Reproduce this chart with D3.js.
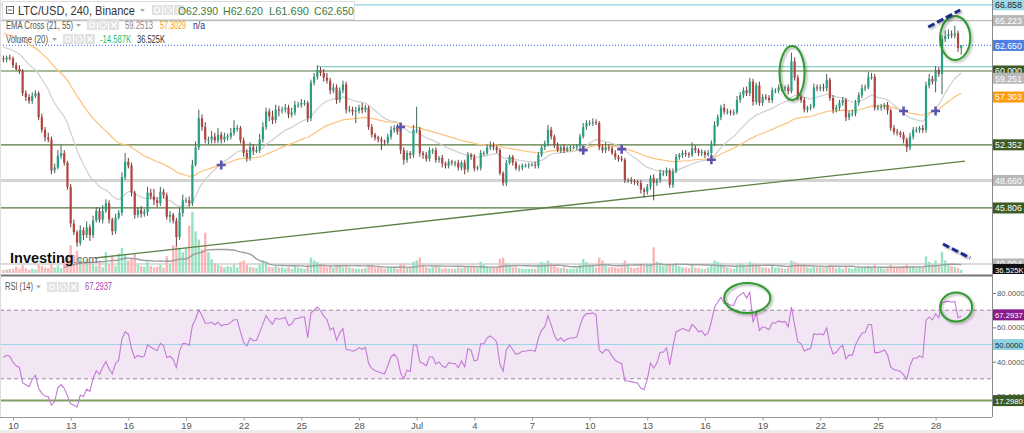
<!DOCTYPE html>
<html><head><meta charset="utf-8">
<script src="https://cdn.jsdelivr.net/npm/d3@7"></script>
<style>
html,body{margin:0;padding:0;background:#fff;}
svg{display:block;font-family:"Liberation Sans",Arial,sans-serif;}
</style></head><body>
<svg id="c" width="1024" height="433"></svg>
<script>
// ---------------- DATA ----------------
const startTime = "2019-06-09T12:00:00Z";   // first 4h candle
const firstOpen = 61.3;
const closes = [
61.2,61.4,61.3,
60.6,60.2,60.0,57.7,57.3,56.9,
57.4,57.7,55.2,53.9,53.1,52.9,
49.7,50.0,51.2,51.5,50.5,48.0,
44.2,43.3,42.2,43.5,43.0,43.8,
43.0,44.5,45.5,44.6,45.5,46.3,
44.6,43.4,44.8,45.3,49.0,50.6,
50.2,47.4,45.1,45.6,45.2,45.4,
47.4,47.0,46.6,46.3,47.5,47.1,
44.9,45.1,44.5,42.8,45.3,46.6,
46.6,46.3,50.3,52.1,55.1,54.2,
52.9,52.9,53.2,52.8,53.4,52.9,
53.2,53.2,53.6,54.1,54.1,52.8,
51.5,51.0,52.1,51.8,51.8,52.9,
54.2,55.8,55.3,54.9,56.0,55.9,
56.0,56.2,55.5,55.7,56.5,56.5,
56.7,56.7,55.1,58.8,59.4,60.1,
59.8,59.3,59.0,58.0,58.3,57.0,
58.0,58.6,56.0,56.0,55.8,55.9,
56.2,56.0,56.2,54.2,53.4,53.1,
52.9,52.7,52.6,53.2,53.9,54.1,
53.7,51.8,50.8,51.5,51.3,53.9,
53.9,51.5,51.3,50.9,51.8,51.8,
50.8,51.0,50.4,50.2,50.6,50.5,
50.5,50.0,50.5,49.8,51.3,51.1,
49.9,50.0,51.5,51.5,52.1,52.3,
52.1,51.8,49.4,48.4,50.5,51.1,
50.5,49.9,50.0,50.2,50.2,50.3,
50.3,50.2,51.3,52.1,52.5,53.9,
53.2,52.3,51.8,52.1,51.8,52.0,
52.1,52.1,52.2,53.2,54.2,54.6,
54.6,54.7,54.6,52.1,51.8,52.1,
52.0,51.5,51.1,50.9,50.8,48.7,
48.7,48.6,48.5,48.4,47.7,47.5,
48.0,48.9,48.4,48.7,49.4,49.4,
49.7,48.2,49.6,51.1,51.3,51.5,
51.4,51.3,52.0,51.8,51.5,51.6,
51.3,51.5,52.5,54.4,55.2,56.2,
55.8,55.8,55.7,55.7,57.0,57.5,
58.0,57.7,58.9,56.8,58.5,56.7,
57.3,57.2,57.0,58.0,58.0,58.3,
58.2,58.3,57.9,61.0,59.3,57.3,
57.0,56.0,56.2,56.3,58.3,58.2,
58.3,58.2,59.1,57.2,56.0,56.2,
56.7,57.0,55.2,55.6,55.6,56.7,
57.5,58.2,58.3,59.4,59.4,56.2,
56.2,56.3,56.5,55.9,54.1,53.7,
53.6,53.4,52.9,52.1,53.2,53.9,
53.9,54.1,53.9,58.5,59.2,58.9,
60.1,59.7,63.3,63.6,63.8,63.7,
63.9,62.39,62.65];
const wickHi = [
0.3,0.2,0.3,
0.2,0.3,0.4,0.2,0.3,0.3, 0.4,0.3,0.2,0.4,0.3,0.5, 0.3,0.4,0.6,0.8,0.3,0.2,
0.3,0.4,0.2,0.5,0.3,0.6, 0.3,0.5,0.4,0.3,0.6,0.4, 0.3,0.2,0.4,0.3,0.5,0.9,
0.4,0.3,0.2,0.3,0.4,0.3, 0.6,0.4,0.8,0.3,0.5,0.3, 0.3,0.4,0.2,0.3,0.5,0.6,
0.3,0.4,0.5,0.6,0.9,0.4, 0.5,0.3,0.6,0.4,0.7,0.3, 0.4,0.3,0.5,0.8,0.3,0.2,
0.3,0.4,0.5,0.3,0.4,0.6, 0.5,0.4,0.3,0.6,0.5,0.4, 0.3,0.4,0.3,0.5,0.4,0.3,
0.4,0.3,0.2,0.3,0.4,0.5, 0.3,0.4,0.5,0.3,0.4,0.3, 0.3,0.4,0.3,0.4,0.3,0.4,
0.3,0.5,0.3,0.2,0.3,0.2, 0.2,0.3,0.2,0.3,0.4,0.3, 0.4,0.2,0.3,0.3,0.2,0.5,
2.4,0.3,0.2,0.3,0.3,0.2, 0.3,0.2,0.3,0.2,0.3,0.2, 0.2,0.3,0.2,0.3,0.3,0.2,
0.3,0.2,0.3,0.2,0.3,0.4, 0.3,0.2,0.2,0.2,0.3,0.2, 0.2,0.2,0.3,0.2,0.2,0.2,
0.2,0.3,0.3,0.2,0.3,0.5, 0.3,0.2,0.3,0.2,0.3,0.2, 0.2,0.2,0.2,0.3,0.4,0.3,
0.3,0.4,0.3,0.2,0.3,0.5, 0.3,0.2,0.3,0.2,0.3,0.2, 0.2,0.3,0.2,0.2,0.3,0.2,
0.3,0.3,0.4,0.2,0.4,0.3, 0.3,0.2,0.3,0.3,0.2,0.3, 0.3,0.2,0.6,0.3,0.2,0.3,
0.2,0.3,0.3,0.4,0.3,0.3, 0.4,0.3,0.2,0.3,0.4,0.3, 0.3,0.4,0.4,0.3,0.3,0.4,
0.3,0.3,0.3,0.3,0.2,0.3, 0.3,0.2,0.3,0.9,0.4,0.3, 0.3,0.3,0.2,0.3,0.4,0.3,
0.3,0.4,0.6,0.2,0.3,0.3, 0.3,0.3,0.2,0.3,0.4,0.3, 0.3,0.4,0.3,0.5,0.4,0.3,
0.3,0.3,0.2,0.3,0.2,0.3, 0.3,0.2,0.3,0.2,0.4,0.3, 0.3,0.2,0.3,0.4,0.5,0.3,
0.4,0.3,0.4,0.6,0.5,0.4, 0.8,0.3,0.0];
const wickLo = [
0.3,0.3,0.2,
0.3,0.2,0.3,0.3,0.4,0.3, 0.3,0.2,0.3,0.3,0.4,0.3, 0.4,0.3,0.2,0.3,0.3,0.3,
0.4,0.3,0.4,0.3,0.5,0.3, 0.6,0.3,0.2,0.3,0.4,0.2, 0.4,0.4,0.3,0.2,0.3,0.3,
0.3,0.4,0.4,0.3,0.4,0.3, 0.4,0.3,0.5,0.4,0.3,0.3, 0.3,0.6,0.3,1.0,0.3,0.4,
0.3,0.4,0.3,0.2,0.3,0.4, 0.4,0.5,0.4,0.3,0.3,0.4, 0.3,0.4,0.3,0.3,0.4,0.3,
0.4,0.4,0.3,0.5,0.3,0.3, 0.3,0.3,0.5,0.4,0.3,0.6, 0.3,0.3,0.4,0.3,0.3,0.3,
0.3,0.3,0.4,0.3,0.3,0.3, 0.3,0.4,0.3,0.4,0.3,0.4, 0.3,0.3,0.4,0.3,0.4,1.2,
0.3,0.4,0.3,0.3,0.3,0.3, 0.3,0.9,0.3,0.2,0.3,0.3, 0.3,0.4,0.5,0.3,0.4,0.3,
0.3,0.4,0.4,0.3,0.3,0.4, 0.3,0.3,0.4,0.3,0.3,0.3, 0.4,0.3,0.3,0.5,0.3,0.3,
0.3,0.2,0.3,0.3,0.2,0.3, 0.3,0.3,0.2,0.3,0.3,0.2, 0.3,0.2,0.3,0.3,0.2,0.3,
0.2,0.3,0.3,0.2,0.3,0.3, 0.3,0.3,0.2,0.3,0.3,0.2, 0.3,0.2,0.3,0.3,0.2,0.3,
0.3,0.3,0.2,0.3,0.3,0.3, 0.3,0.2,0.3,0.3,0.2,0.3, 0.3,0.3,0.3,0.3,0.4,0.6,
0.3,0.3,1.8,0.3,0.3,0.3, 0.3,0.3,0.3,0.2,0.3,0.3, 0.3,0.3,0.2,0.3,0.3,0.3,
0.3,0.2,0.3,0.3,0.2,0.3, 0.3,0.3,0.3,0.3,0.2,0.3, 0.3,0.3,0.3,0.4,0.3,0.3,
0.3,0.2,0.3,0.3,0.3,0.3, 0.3,0.3,0.3,0.2,0.3,0.3, 0.3,0.3,0.3,0.3,0.2,0.3,
0.3,0.3,0.3,0.3,0.4,0.3, 0.3,0.3,0.4,0.3,0.3,0.3, 0.3,0.3,0.3,0.2,0.3,0.3,
0.3,0.3,0.3,0.4,0.3,0.3, 0.3,0.3,0.4,0.5,0.3,0.3, 0.3,0.3,0.3,0.3,0.3,0.3,
1.1,0.3,2.1,0.3,0.3,0.3, 0.3,0.4,0.7];
const volumes = [
20,25,30,
30,45,30,55,35,25, 30,25,60,50,40,35, 70,40,55,35,90,110,
200,130,160,110,80,90, 70,60,50,90,40,150, 60,120,50,140,180,130,
90,100,140,60,50,45, 80,50,40,45,60,40, 120,60,200,190,180,150,
180,340,440,300,240,170, 290,150,100,70,60,50, 40,50,45,60,40,80,
90,60,45,40,35,60, 90,70,45,40,55,40, 40,35,45,30,50,40,
35,30,60,110,90,80, 60,50,40,55,40,60, 50,40,60,40,35,30,
30,30,35,60,55,40, 40,35,30,40,45,35, 30,70,60,40,35,80,
90,110,60,40,35,40, 45,40,30,35,30,30, 30,40,35,45,50,40,
50,40,80,60,50,40, 35,45,100,110,70,55, 40,45,35,30,30,30,
30,30,60,80,70,90, 70,50,40,35,40,30, 30,30,35,60,100,80,
60,50,40,110,90,60, 40,45,40,35,40,90, 60,40,35,40,60,50,
70,60,185,80,60,50, 50,60,55,70,50,40, 40,35,60,40,35,30,
30,40,60,90,80,70, 50,40,35,30,60,70, 60,40,80,70,60,60,
40,40,35,50,40,40, 35,30,40,90,80,70, 50,60,40,35,45,40,
40,35,50,60,45,35, 40,30,50,35,30,40, 45,40,35,50,40,60,
40,35,30,40,60,45, 40,35,50,60,45,50, 40,45,40,120,80,60,
90,60,150,90,60,50, 45,35,22];
const ema21Seed = 62.6, ema55Seed = 64.0;        // indicator values before the first candle
const rsiSeedGain = 0.30, rsiSeedLoss = 0.40;    // Wilder averages before the first candle
const tickDates  = ["2019-06-10","2019-06-13","2019-06-16","2019-06-19","2019-06-22","2019-06-25","2019-06-28","2019-07-01","2019-07-04","2019-07-07","2019-07-10","2019-07-13","2019-07-16","2019-07-19","2019-07-22","2019-07-25","2019-07-28"];
const tickLabels = ["10","13","16","19","22","25","28","Jul","4","7","10","13","16","19","22","25","28"];
const priceTicks = [40,42,44,46,48,50,52,54,56,58,60,62,64,66];
const rsiTicks = [20,40,60,80];
const levelPrices = [66.858, 65.223, 60.45, 60.0, 52.352, 48.66, 45.806, 40.004];
const currentPrice = 62.65;
const trendline = [[28.6, 40.62],[300.2, 50.67]];           // [candle index, price]
const crossIdx   = [68, 124, 181, 193, 221, 281, 291];
const crossPrice = [50.26, 54.2, 51.8, 51.9, 50.8, 55.85, 55.85];
const rsiLevels = [70, 50, 30, 17.298];
const lastRSI = 67.2937;
const ema21Last = 59.251, ema55Last = 57.303, volMALast = "36.525K";
const header = {sym:"LTC/USD, 240, Binance", ohlc:["O62.390","H62.620","L61.690","C62.650"],
  ema:["59.2513","57.3029","n/a"], vol:["-14.587K","36.525K"], rsi:"67.2937"};

// ---------------- SETUP ----------------
const svg = d3.select("#c");
const plotR = 992;
const x = d3.scaleUtc().domain([new Date("2019-06-10T00:00:00Z"), new Date("2019-07-28T00:00:00Z")]).range([13, 935.6]);
const t0 = new Date(startTime).getTime();
const tAt = i => new Date(t0 + i*4*3600*1000);
const xi = i => x(tAt(i));
const y  = d3.scaleLinear().domain([40,66]).range([264,13.1]);
const yv = d3.scaleLinear().domain([0,560]).range([273,195]);
const yr = d3.scaleLinear().domain([40,80]).range([361.65,293.05]);
const N = closes.length;
const opens = closes.map((c,i)=> i===0 ? firstOpen : closes[i-1]);
const highs = closes.map((c,i)=> Math.max(c,opens[i]) + wickHi[i]);
const lows  = closes.map((c,i)=> Math.min(c,opens[i]) - wickLo[i]);
const up = closes.map((c,i)=> c >= opens[i]);

// indicators
const ema = (seed, n) => { const a = 2/(n+1); let e = seed; return closes.map(c => (e = e + a*(c-e))); };
const ema21 = ema(ema21Seed, 21), ema55 = ema(ema55Seed, 55);
let ag = rsiSeedGain, al = rsiSeedLoss;
const rsi = closes.map((c,i)=>{ const ch = c - (i===0?firstOpen:closes[i-1]);
  ag = (ag*13 + Math.max(ch,0))/14; al = (al*13 + Math.max(-ch,0))/14; return 100 - 100/(1+ag/al); });
const volMA = volumes.map((v,i)=> i<19 ? null : d3.mean(volumes.slice(i-19,i+1)));

const defs = svg.append("defs");
defs.append("clipPath").attr("id","cm").append("rect").attr("x",0).attr("y",0).attr("width",plotR).attr("height",274);
defs.append("clipPath").attr("id","cr").append("rect").attr("x",0).attr("y",277).attr("width",plotR).attr("height",139);
defs.append("clipPath").attr("id","cax").append("rect").attr("x",plotR).attr("y",0).attr("width",40).attr("height",274);
const f = defs.append("filter").attr("id","sh").attr("x","-20%").attr("y","-20%").attr("width","150%").attr("height","150%");
f.append("feDropShadow").attr("dx",1.5).attr("dy",1.5).attr("stdDeviation",1.2).attr("flood-color","#000").attr("flood-opacity",0.35);

// ---------------- MAIN PANE ----------------
const gm = svg.append("g").attr("clip-path","url(#cm)");
const levelStyle = [
 {c:"#8fd3e3", w:1.3}, {c:"#bdbdbd", w:1.3}, {c:"#86d0cc", w:1.3, from:98},
 {c:"#55783a", w:1.2}, {c:"#55783a", w:1.2}, {c:"#d4d4d4", w:3},
 {c:"#55783a", w:1.2}, {c:"#cfcfcf", w:1.5}];
levelPrices.forEach((p,k)=>{
  const s = levelStyle[k];
  gm.append("line").attr("x1", s.from!=null ? xi(s.from) : 0).attr("x2", plotR)
    .attr("y1", y(p)).attr("y2", y(p)).attr("stroke", s.c).attr("stroke-width", s.w);
});
gm.append("line").attr("x1",0).attr("x2",plotR).attr("y1",y(currentPrice)).attr("y2",y(currentPrice))
  .attr("stroke","#5b82f2").attr("stroke-width",1.2).attr("stroke-dasharray","1,2");

// volume
gm.selectAll("rect.vol").data(volumes).join("rect").attr("class","vol")
  .attr("x",(d,i)=>xi(i)-1.2).attr("width",2.4)
  .attr("y",d=>yv(d)).attr("height",d=>yv(0)-yv(d))
  .attr("fill",(d,i)=> up[i] ? "#98e2c2" : "#f8b6b6");
gm.append("path").datum(volMA.map((v,i)=>[i,v]).filter(d=>d[1]!=null))
  .attr("d", d3.line().x(d=>xi(d[0])).y(d=>yv(d[1])))
  .attr("fill","none").attr("stroke","#9e9e9e").attr("stroke-width",1.4);

// trendline
gm.append("line").attr("x1",xi(trendline[0][0])).attr("y1",y(trendline[0][1]))
  .attr("x2",xi(trendline[1][0])).attr("y2",y(trendline[1][1]))
  .attr("stroke","#5c8046").attr("stroke-width",1.3);

// EMAs
const lineI = arr => d3.line().x((d,i)=>xi(i)).y(d=>y(d))(arr);
gm.append("path").attr("d",lineI(ema55)).attr("fill","none").attr("stroke","#fcc27a").attr("stroke-width",1.2);
gm.append("path").attr("d",lineI(ema21)).attr("fill","none").attr("stroke","#cfcfcf").attr("stroke-width",1.2);

// candles
const idx = d3.range(N);
gm.selectAll("line.wick").data(idx).join("line").attr("class","wick")
  .attr("x1",i=>xi(i)).attr("x2",i=>xi(i)).attr("y1",i=>y(highs[i])).attr("y2",i=>y(lows[i]))
  .attr("stroke",i=> up[i] ? "#3f6650" : "#6a3a36").attr("stroke-width",1);
gm.selectAll("rect.body").data(idx).join("rect").attr("class","body")
  .attr("x",i=>xi(i)-1.1).attr("width",2.2)
  .attr("y",i=>y(Math.max(opens[i],closes[i])))
  .attr("height",i=>Math.max(1, Math.abs(y(opens[i])-y(closes[i]))))
  .attr("fill",i=> up[i] ? "#27a086" : "#b3443f");

// cross markers
crossIdx.forEach((ci,k)=>{
  const cx = xi(ci), cy = y(crossPrice[k]);
  gm.append("path").attr("d",`M${cx-4.5},${cy}H${cx+4.5}M${cx},${cy-4.5}V${cy+4.5}`)
    .attr("stroke","#5b55b0").attr("stroke-width",2.6);
});

// annotations (price)
const ellipse = (g, ci, v, rc, rv, ys) => g.append("ellipse")
  .attr("cx", xi(ci)).attr("cy", ys(v)).attr("rx", xi(ci+rc)-xi(ci)).attr("ry", Math.abs(ys(v+rv)-ys(v)))
  .attr("fill","none").attr("stroke","#2e9a2e").attr("stroke-width",2).attr("filter","url(#sh)");
ellipse(gm, 246.2, 59.8, 3.9, 2.8, y);
ellipse(gm, 297.1, 63.42, 4.7, 2.28, y);
const dash = (g, a, b, ys) => g.append("line").attr("x1",xi(a[0])).attr("y1",ys(a[1])).attr("x2",xi(b[0])).attr("y2",ys(b[1]))
  .attr("stroke","#1c2a8a").attr("stroke-width",3).attr("stroke-dasharray","7,3").attr("filter","url(#sh)");
dash(gm, [288.7,64.56],[298.7,66.32], y);
dash(gm, [293.3,208],[301.8,108], yv);

// logo
const logo = svg.append("text").attr("x",10).attr("y",263);
logo.append("tspan").text("Investing").attr("font-size",14.5).attr("font-weight","bold").attr("fill","#111");
logo.append("tspan").text(".com").attr("font-size",11).attr("fill","#666");

// ---------------- RSI PANE ----------------
const gr = svg.append("g").attr("clip-path","url(#cr)");
gr.append("rect").attr("x",0).attr("width",plotR).attr("y",yr(70)).attr("height",yr(30)-yr(70)).attr("fill","#f3e6f4");
gr.append("line").attr("x1",0).attr("x2",plotR).attr("y1",yr(rsiLevels[3])).attr("y2",yr(rsiLevels[3])).attr("stroke","#7fa060").attr("stroke-width",2);
[70,30].forEach(v=> gr.append("line").attr("x1",0).attr("x2",plotR).attr("y1",yr(v)).attr("y2",yr(v))
  .attr("stroke","#9a8a9a").attr("stroke-width",1).attr("stroke-dasharray","4,3"));
gr.append("line").attr("x1",0).attr("x2",plotR).attr("y1",yr(50)).attr("y2",yr(50)).attr("stroke","#9fd3ea").attr("stroke-width",1.2);
gr.append("path").attr("d", d3.line().x((d,i)=>xi(i)).y(d=>yr(d))(rsi))
  .attr("fill","none").attr("stroke","#c27ad4").attr("stroke-width",1.1);
ellipse(gr, 232.2, 77.1, 7.2, 8.75, yr);
ellipse(gr, 297.4, 71.9, 5.0, 8.45, yr);

// ---------------- FRAME / AXES ----------------
svg.append("line").attr("x1",0).attr("x2",plotR).attr("y1",275.5).attr("y2",275.5).attr("stroke","#777").attr("stroke-width",2);
svg.append("line").attr("x1",plotR+0.5).attr("x2",plotR+0.5).attr("y1",0).attr("y2",417).attr("stroke","#8a8a8a");
svg.append("line").attr("x1",0.5).attr("x2",0.5).attr("y1",0).attr("y2",417).attr("stroke","#ddd");
svg.append("line").attr("x1",0).attr("x2",plotR).attr("y1",417.5).attr("y2",417.5).attr("stroke","#999");
svg.append("rect").attr("x",0).attr("y",430).attr("width",1024).attr("height",3).attr("fill","#ececec");

// bottom axis
const xa = svg.append("g").attr("transform","translate(0,417.5)")
  .call(d3.axisBottom(x).tickValues(tickDates.map(d=>new Date(d+"T00:00:00Z"))).tickFormat((d,i)=>tickLabels[i]).tickSize(3).tickPadding(2));
xa.select(".domain").remove();
xa.selectAll("line").attr("stroke","#999");
xa.selectAll("text").attr("fill","#555").attr("font-size",9.5).attr("font-family","Liberation Sans, Arial, sans-serif");

// right axes (tick labels that sit fully under a value tag are not drawn: the tag covers them)
const tagPrices = [levelPrices[0], levelPrices[1], currentPrice, levelPrices[3], ema21Last, ema55Last,
                   levelPrices[4], levelPrices[5], levelPrices[6], levelPrices[7]];
const visiblePriceTicks = priceTicks.filter(t => d3.min(tagPrices, p => Math.abs(y(p)-y(t))) > 2.5);
const styleAxis = (g, size) => {
  g.select(".domain").remove();
  g.selectAll("line").attr("stroke","#777");
  g.selectAll("text").attr("fill","#555").attr("font-size",size).attr("font-family","Liberation Sans, Arial, sans-serif");
};
const ya = svg.append("g").attr("transform",`translate(${plotR+1},0)`).attr("clip-path","url(#cax)")
  .call(d3.axisRight(y).tickValues(visiblePriceTicks).tickFormat(d3.format(".3f")).tickSize(3).tickPadding(1));
styleAxis(ya, 8.5);
const ra = svg.append("g").attr("transform",`translate(${plotR+1},0)`)
  .call(d3.axisRight(yr).tickValues(rsiTicks).tickFormat(d3.format(".4f")).tickSize(3).tickPadding(1));
styleAxis(ra, 7.7);

// value tags on the axis
const tagG = svg.append("g");
const tag = (yy, text, bg, fg, clip) => {
  const g = tagG.append("g"); if (clip) g.attr("clip-path","url(#cax)");
  g.append("rect").attr("x",plotR+1).attr("y",yy-5.5).attr("width",1024-plotR).attr("height",11).attr("fill",bg);
  g.append("text").attr("x",plotR+3).attr("y",yy+3.3).attr("font-size", text.length>6 ? 7.7 : 8.8).attr("fill",fg).text(text);
};
const f3 = d3.format(".3f"), f4 = d3.format(".4f");
tag(y(levelPrices[0]), f3(levelPrices[0]), "#9fd9e7", "#223", true);
tag(y(levelPrices[1]), f3(levelPrices[1]), "#b8b8b8", "#fff", true);
tag(y(currentPrice), f3(currentPrice), "#4f7fe0", "#fff", true);
tag(y(levelPrices[3]), f3(levelPrices[3]), "#3c5a26", "#fff", true);
tag(y(ema21Last), f3(ema21Last), "#b8b8b8", "#fff", true);
tag(y(ema55Last), f3(ema55Last), "#ff9a0a", "#fff", true);
tag(y(levelPrices[4]), f3(levelPrices[4]), "#3c5a26", "#fff", true);
tag(y(levelPrices[5]), f3(levelPrices[5]), "#b8b8b8", "#fff", true);
tag(y(levelPrices[6]), f3(levelPrices[6]), "#3c5a26", "#fff", true);
tag(y(levelPrices[7]), f3(levelPrices[7]), "#b8b8b8", "#fff", true);
tag(yv(36.525)+1.5, volMALast, "#111", "#fff", true);
tag(yr(lastRSI), f4(lastRSI), "#8a1a8e", "#fff", false);
tag(yr(50), f4(50), "#90d4e4", "#223", false);
tag(yr(rsiLevels[3]), f4(rsiLevels[3]), "#3c5a26", "#fff", false);

// ---------------- HEADER / LEGENDS ----------------
const icons = (x0, yTop) => {
  for (let k=0;k<3;k++){
    const gx = x0 + k*11;
    svg.append("rect").attr("x",gx).attr("y",yTop).attr("width",10).attr("height",10).attr("fill","#e2e2e2");
    if (k===0) svg.append("circle").attr("cx",gx+5).attr("cy",yTop+5).attr("r",2.5).attr("fill","none").attr("stroke","#fff").attr("stroke-width",1.2);
    if (k===1) svg.append("circle").attr("cx",gx+5).attr("cy",yTop+5).attr("r",3).attr("fill","none").attr("stroke","#fff").attr("stroke-width",1.6).attr("stroke-dasharray","1.5,1");
    if (k===2) svg.append("path").attr("d",`M${gx+2.5},${yTop+2.5}L${gx+7.5},${yTop+7.5}M${gx+7.5},${yTop+2.5}L${gx+2.5},${yTop+7.5}`).attr("stroke","#fff").attr("stroke-width",1.3);
  }
};
const txt = (xx, yy, size, fill, s, len) => {
  const t = svg.append("text").attr("x",xx).attr("y",yy).attr("font-size",size).attr("fill",fill).text(s);
  if (len) t.attr("textLength",len).attr("lengthAdjust","spacingAndGlyphs");
  return t;
};
const caret = (xx, yy) => svg.append("path").attr("d",`M${xx},${yy}l5,0l-2.5,3z`).attr("fill","#aaa");

svg.append("rect").attr("x",2.5).attr("y",1.5).attr("width",352).attr("height",18).attr("fill","#fff").attr("stroke","#dcdcdc");
svg.append("rect").attr("x",6.5).attr("y",6.5).attr("width",7).attr("height",7).attr("fill","none").attr("stroke","#666");
svg.append("line").attr("x1",8).attr("x2",12).attr("y1",10).attr("y2",10).attr("stroke","#666");
txt(18, 15, 12, "#333", header.sym, 117);
caret(140, 9);
icons(152, 5);
[178,223,269,314].forEach((xx,k)=> txt(xx, 15, 11.5, "#3d7d3d", header.ohlc[k], 40));

txt(6, 28.5, 10, "#555", "EMA Cross (21, 55)", 67);
caret(76, 24);
icons(87, 20);
txt(125, 28.5, 10, "#888", header.ema[0], 28);
txt(160, 28.5, 10, "#f39a1e", header.ema[1], 26);
txt(193, 28.5, 10, "#2a2a8a", header.ema[2], 12);

txt(6, 42.5, 10, "#555", "Volume (20)", 42);
caret(52, 38);
icons(63, 34);
txt(100, 42.5, 10, "#1fbf7a", header.vol[0], 31);
txt(137, 42.5, 10, "#333", header.vol[1], 28);

txt(5, 290, 10, "#555", "RSI (14)", 28);
caret(36, 285.5);
icons(47, 282);
txt(85, 290, 10, "#a23fb0", header.rsi, 27);
</script>
</body></html>
